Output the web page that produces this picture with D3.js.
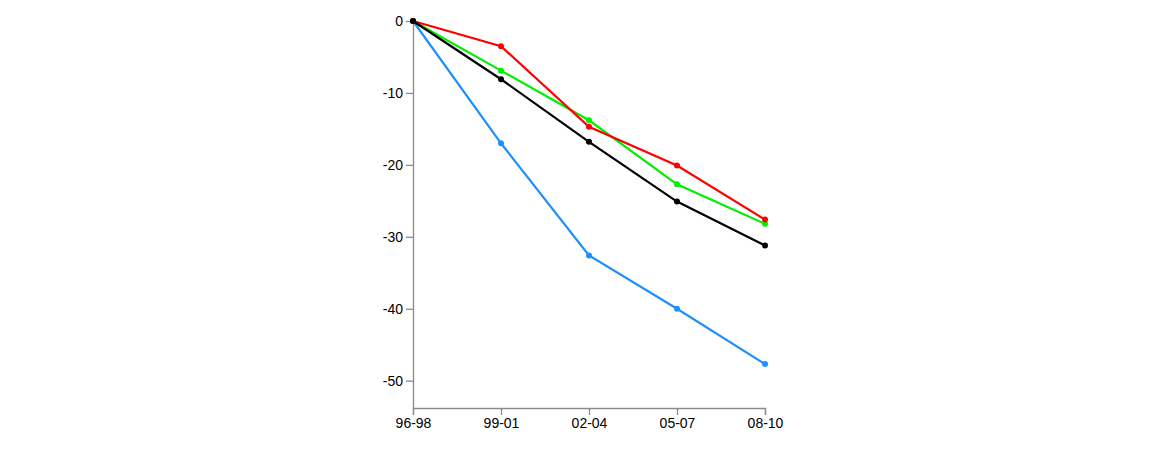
<!DOCTYPE html>
<html><head><meta charset="utf-8">
<script src="https://cdn.jsdelivr.net/npm/d3@7/dist/d3.min.js"></script>
<style>body{margin:0;background:#fff}svg{display:block}</style>
</head><body>
<script>
const categories = ["96-98","99-01","02-04","05-07","08-10"];
const blueValues  = [0, -17.0, -32.6, -40.0, -47.7];
const blackValues = [0, -8.1, -16.8, -25.1, -31.2];
const greenValues = [0, -6.9, -13.8, -22.7, -28.2];
const redValues   = [0, -3.5, -14.7, -20.1, -27.6];
const yTicks = [0, -10, -20, -30, -40, -50];

const series = [
  {values: blueValues, color: "#1e8fff"},
  {values: greenValues, color: "#00ee00"},
  {values: redValues, color: "#ff0000"},
  {values: blackValues, color: "#000000"}
];

const W = 1170, H = 450;
const svg = d3.select("body").append("svg").attr("width", W).attr("height", H);
const x = d3.scalePoint().domain(categories).range([413, 765]);
const y = d3.scaleLinear().domain([-53.8, 0]).range([408, 21]);

const yAxis = svg.append("g").attr("transform", "translate(413,0)")
  .call(d3.axisLeft(y).tickValues(yTicks).tickFormat(d => String(d))
    .tickSize(7).tickSizeOuter(0).tickPadding(3));
const xAxis = svg.append("g").attr("transform", "translate(0,408)")
  .call(d3.axisBottom(x).tickSize(7).tickSizeOuter(7).tickPadding(3));
[yAxis, xAxis].forEach(g => {
  g.selectAll("path,line").attr("stroke", "#8a8a8a").attr("stroke-width", 1.3);
  g.selectAll("text").attr("font-family", "'Liberation Sans', Arial, sans-serif")
    .attr("font-size", 14).attr("fill", "#000");
});

const line = d3.line().x((d, i) => x(categories[i])).y(d => y(d));
series.forEach(s => {
  svg.append("path").datum(s.values).attr("d", line)
    .attr("fill", "none").attr("stroke", s.color).attr("stroke-width", 2.2);
  svg.selectAll(null).data(s.values).enter().append("circle")
    .attr("cx", (d, i) => x(categories[i])).attr("cy", d => y(d))
    .attr("r", 3).attr("fill", s.color);
});
</script>
</body></html>
